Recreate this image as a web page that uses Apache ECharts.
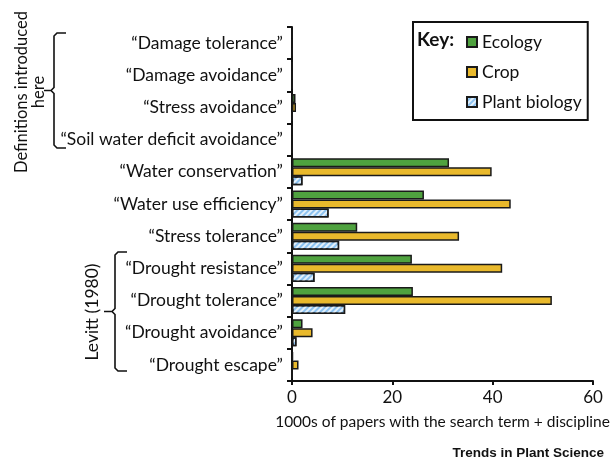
<!DOCTYPE html>
<html>
<head>
<meta charset="utf-8">
<script src="https://cdn.jsdelivr.net/npm/echarts@6/dist/echarts.min.js"></script>
<style>
  html, body { margin: 0; padding: 0; background: #fff; }
  #chart { width: 615px; height: 467px; }
</style>
</head>
<body>
<div id="chart"></div>
<script>
// search terms, top to bottom
const terms = [
  '\u201cDamage tolerance\u201d',
  '\u201cDamage avoidance\u201d',
  '\u201cStress avoidance\u201d',
  '\u201cSoil water deficit avoidance\u201d',
  '\u201cWater conservation\u201d',
  '\u201cWater use efficiency\u201d',
  '\u201cStress tolerance\u201d',
  '\u201cDrought resistance\u201d',
  '\u201cDrought tolerance\u201d',
  '\u201cDrought avoidance\u201d',
  '\u201cDrought escape\u201d'
]
// 1000s of papers
const ecology = [0, 0, 0.7, 0, 31.3, 26.3, 13.0, 23.9, 24.1, 2.1, 0.2]
const crop = [0, 0, 0.8, 0, 39.8, 43.6, 33.3, 41.9, 51.8, 4.1, 1.3]
const plantBiology = [0, 0, 0, 0, 2.1, 7.3, 9.4, 4.5, 10.6, 0.9, 0]
const xTicks = [0, 20, 40, 60]

const font = 'Lato'
const fs = 17.5
const chart = echarts.init(document.getElementById('chart'))

const barBorder = { borderColor: '#1a1a1a', borderWidth: 1.5 }

// curly-ish bracket as a polyline
function bracket (x, top, bottom, tipX) {
  const mid = (top + bottom) / 2
  return [[x + 12, top], [x + 3, top], [x, top + 3], [x, mid - 3], [x - 3, mid], [tipX, mid],
    [x - 3, mid], [x, mid + 3], [x, bottom - 3], [x + 3, bottom], [x + 12, bottom]]
}

const option = {
  animation: false,
  textStyle: { fontFamily: font },
  grid: { left: 292, right: 22, top: 27, bottom: 86, outerBoundsMode: 'none' },
  legend: {
    orient: 'vertical',
    left: 413,
    top: 22,
    width: 173,
    padding: [11, 6, 9, 53],
    itemGap: 12,
    itemWidth: 10,
    itemHeight: 10,
    icon: 'rect',
    borderColor: '#111',
    borderWidth: 2,
    textStyle: { fontSize: fs, color: '#111', fontFamily: font }
  },
  xAxis: {
    type: 'value',
    min: xTicks[0],
    max: xTicks[xTicks.length - 1],
    interval: 20,
    name: '1000s of papers with the search term + discipline',
    nameLocation: 'middle',
    nameGap: 33,
    nameTextStyle: { fontSize: 15.5, color: '#111' },
    axisLine: { show: true, lineStyle: { color: '#111', width: 2 } },
    axisTick: { show: true, length: 4, lineStyle: { color: '#111', width: 2 } },
    axisLabel: { fontSize: 17, color: '#111', margin: 8 },
    splitLine: { show: false }
  },
  yAxis: {
    type: 'category',
    data: terms,
    inverse: true,
    axisLine: { show: true, lineStyle: { color: '#111', width: 2 } },
    axisTick: { show: true, length: 5, lineStyle: { color: '#111', width: 2 } },
    axisLabel: { fontSize: fs, color: '#111', margin: 9 }
  },
  series: [
    {
      name: 'Ecology',
      type: 'bar',
      data: ecology,
      barGap: '0%',
      barCategoryGap: '16%',
      itemStyle: Object.assign({ color: '#4fa23f' }, barBorder)
    },
    {
      name: 'Crop',
      type: 'bar',
      data: crop,
      barGap: '0%',
      barCategoryGap: '16%',
      itemStyle: Object.assign({ color: '#e9b92c' }, barBorder)
    },
    {
      name: 'Plant biology',
      type: 'bar',
      data: plantBiology,
      barGap: '0%',
      barCategoryGap: '16%',
      itemStyle: Object.assign({
        color: '#8cc2f0',
        decal: {
          symbol: 'rect',
          color: 'rgba(255,255,255,0.75)',
          dashArrayX: [1, 0],
          dashArrayY: [1.5, 2],
          rotation: -Math.PI / 4
        }
      }, barBorder)
    }
  ],
  graphic: [
    {
      type: 'text',
      left: 417,
      top: 30,
      style: { text: 'Key:', fontSize: 19, fontWeight: 'bold', fill: '#111', fontFamily: font }
    },
    {
      type: 'polyline',
      shape: { points: bracket(54, 33, 148, 44) },
      style: { stroke: '#111', lineWidth: 1.6, fill: null }
    },
    {
      type: 'text',
      x: 30,
      y: 92,
      rotation: Math.PI / 2,
      style: {
        text: 'Definitions introduced\nhere',
        fontSize: 16.5,
        lineHeight: 17,
        fill: '#111',
        align: 'center',
        verticalAlign: 'middle',
        fontFamily: font
      }
    },
    {
      type: 'polyline',
      shape: { points: bracket(115, 252, 371, 104) },
      style: { stroke: '#111', lineWidth: 1.6, fill: null }
    },
    {
      type: 'text',
      x: 92,
      y: 312,
      rotation: Math.PI / 2,
      style: {
        text: 'Levitt (1980)',
        fontSize: fs,
        fill: '#111',
        align: 'center',
        verticalAlign: 'middle',
        fontFamily: font
      }
    },
    {
      type: 'text',
      right: 11,
      top: 446,
      style: {
        text: 'Trends in Plant Science',
        fontSize: 13.5,
        fontWeight: 'bold',
        fill: '#111',
        fontFamily: 'Liberation Sans'
      }
    }
  ]
}

chart.setOption(option)
</script>
</body>
</html>
